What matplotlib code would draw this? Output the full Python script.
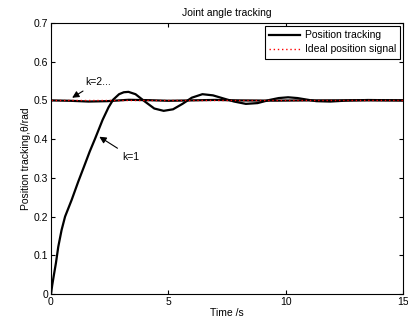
import matplotlib
matplotlib.use('Agg')
import matplotlib.pyplot as plt

plt.rcParams['font.family'] = ['Liberation Sans', 'DejaVu Sans']

# k=1 iteration
t_k1 = [0, 0.05, 0.12, 0.21, 0.31, 0.45, 0.6, 0.88, 1.16, 1.4, 1.65, 1.87, 2.2, 2.45, 2.65, 2.9,
        3.1, 3.3, 3.6, 4.0, 4.4, 4.8, 5.2, 5.6, 6.0, 6.45, 6.9, 7.4, 7.8, 8.3, 8.8, 9.3,
        9.7, 10.1, 10.5, 10.8, 11.3, 11.9, 12.6, 13.5, 14.2, 15]
y_k1 = [0, 0.022, 0.048, 0.08, 0.122, 0.165, 0.2, 0.243, 0.29, 0.328, 0.368, 0.4, 0.45, 0.482, 0.502, 0.516,
        0.521, 0.522, 0.516, 0.497, 0.479, 0.473, 0.477, 0.491, 0.507, 0.516, 0.513, 0.504, 0.497, 0.491, 0.493, 0.501,
        0.506, 0.508, 0.506, 0.503, 0.498, 0.497, 0.4995, 0.501, 0.5005, 0.5]

# later iterations (k=2...), almost on top of the reference
t_k2 = [0, 0.8, 1.6, 2.4, 3.3, 4.2, 5.0, 6.0, 7.0, 8.0, 9.5, 11, 13, 15]
y_k2 = [0.5, 0.499, 0.497, 0.498, 0.5015, 0.5005, 0.499, 0.5, 0.5012, 0.5, 0.4993, 0.5, 0.5003, 0.5]

t_ref = [0, 15]
y_ref = [0.5, 0.5]

fig = plt.figure(figsize=(4.08, 3.25), dpi=100)
ax = fig.add_axes([0.125, 0.0954, 0.863, 0.834])

ax.plot(t_k1, y_k1, color='k', lw=1.6, label='Position tracking')
ax.plot(t_k2, y_k2, color='k', lw=1.6)
ax.plot(t_ref, y_ref, color='red', lw=1.0, ls=(0, (1, 2)), label='Ideal position signal')

ax.set_xlim(0, 15)
ax.set_ylim(0, 0.7)
ax.set_xticks([0, 5, 10, 15])
ax.set_yticks([0, 0.1, 0.2, 0.3, 0.4, 0.5, 0.6, 0.7])
ax.set_yticklabels(['0', '0.1', '0.2', '0.3', '0.4', '0.5', '0.6', '0.7'])
ax.tick_params(direction='in', top=True, right=True, labelsize=7.5, length=3, pad=2)
for s in ax.spines.values():
    s.set_linewidth(0.8)

ax.set_title('Joint angle tracking', fontsize=7.5, pad=5)
ax.set_xlabel('Time /s', fontsize=7.5, labelpad=1)
ax.set_ylabel('Position tracking,θ/rad', fontsize=7.5, labelpad=2)

arrow = dict(arrowstyle='-|>', color='k', lw=0.8, mutation_scale=10)
ax.annotate('k=2...', xy=(0.8, 0.503), xytext=(1.45, 0.548), fontsize=7.5,
            arrowprops=arrow, ha='left', va='center')
ax.annotate('k=1', xy=(1.96, 0.41), xytext=(3.05, 0.354), fontsize=7.5,
            arrowprops=arrow, ha='left', va='center')

leg = ax.legend(loc='upper right', fontsize=7.5, fancybox=False, framealpha=1,
                edgecolor='k', borderaxespad=0.3, handlelength=3.0,
                borderpad=0.4, labelspacing=0.4, handletextpad=0.4)
leg.get_frame().set_linewidth(0.8)

fig.savefig('out.png', dpi=100)
